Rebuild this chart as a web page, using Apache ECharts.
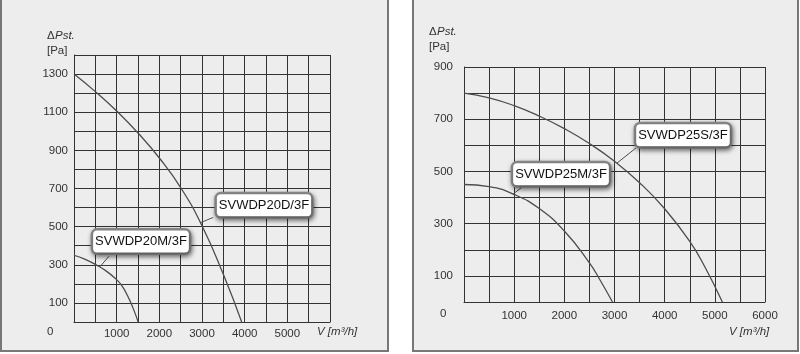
<!DOCTYPE html>
<html>
<head>
<meta charset="utf-8">
<script src="https://cdn.jsdelivr.net/npm/echarts@6/dist/echarts.min.js"></script>
<style>
html,body{margin:0;padding:0;background:#fff;}
#chart{width:800px;height:354px;}
</style>
</head>
<body>
<div id="chart"></div>
<script>
// ---- data ----
const curveD20 = [[0,1300],[500,1208],[1000,1106],[1500,991],[2000,860],[2500,705],[3000,505],[3500,250],[3930,0]];
const curveM20 = [[0,350],[250,330],[500,302],[750,268],[1000,222],[1125,190],[1250,140],[1375,78],[1505,0]];
const curveS25 = [[0,800],[500,782],[1000,752],[1500,712],[2000,664],[2500,607],[3000,539],[3500,457],[4000,357],[4500,232],[4800,135],[5150,0]];
const curveM25 = [[0,450],[500,442],[1000,412],[1500,358],[2000,272],[2500,150],[2700,88],[2960,0]];

const xLabelsLeft = [1000,2000,3000,4000,5000];
const yLabelsLeft = [100,300,500,700,900,1100,1300];
const xLabelsRight = [1000,2000,3000,4000,5000,6000];
const yLabelsRight = [100,300,500,700,900];

const nameD20 = 'SVWDP20D/3F', nameM20 = 'SVWDP20M/3F', nameS25 = 'SVWDP25S/3F', nameM25 = 'SVWDP25M/3F';
// annotation anchors in data units: [box centre], [leader start on curve], [leader end at box]
const annD20 = {box:[4453,612], from:[2955,520], to:[3260,548]};
const annM20 = {box:[1570,422], from:[609,290], to:[820,345]};
const annS25 = {box:[4365,639], from:[3050,532], to:[3429,590]};
const annM25 = {box:[1934,489], from:[977,413], to:[1156,440]};

const FONT = 'Liberation Sans, Arial, sans-serif';
const gridColor = '#333';
const curveColor = '#4d4d4d';

function axisX(grid, labels){
  return {
    gridIndex: grid, type:'value', min:0, max:6000, interval:500,
    axisLine:{show:true, lineStyle:{color:gridColor, width:1}},
    axisTick:{show:false},
    splitLine:{show:true, lineStyle:{color:gridColor, width:1}},
    axisLabel:{formatter:v => labels.includes(v) ? String(v) : '', color:'#333', fontSize:11.5, fontFamily:FONT, margin:grid===0?6:8}
  };
}
function axisY(grid, max, labels, margin){
  return {
    gridIndex: grid, type:'value', min:0, max:max, interval:100,
    axisLine:{show:true, lineStyle:{color:gridColor, width:1}},
    axisTick:{show:false},
    splitLine:{show:true, lineStyle:{color:gridColor, width:1}},
    axisLabel:{formatter:v => labels.includes(v) ? String(v) : '', color:'#333', fontSize:11.5, fontFamily:FONT, margin:margin}
  };
}
function boxLabel(text){
  return {
    show:true, position:'inside', formatter:text,
    fontSize:13, fontFamily:FONT, color:'#111',
    backgroundColor:'#fff', borderColor:'#8a8a8a', borderWidth:2.5, borderRadius:4,
    padding:[5,2,4,2],
    shadowBlur:5, shadowColor:'rgba(0,0,0,0.45)', shadowOffsetX:1, shadowOffsetY:2
  };
}
function curveSeries(name, data, xi, yi, ann){
  return {
    name:name, type:'line', xAxisIndex:xi, yAxisIndex:yi, data:data,
    smooth:0.5, showSymbol:false, symbol:'none', z:3,
    lineStyle:{color:curveColor, width:1.3},
    markLine:{
      silent:true, symbol:['none','none'], label:{show:false},
      lineStyle:{color:curveColor, width:1, type:'solid'},
      data:[[{coord:ann.from},{coord:ann.to}]]
    },
    markPoint:{
      silent:true, symbol:'rect', symbolSize:1, itemStyle:{color:'rgba(0,0,0,0)'},
      label:boxLabel(name),
      data:[{coord:ann.box}]
    }
  };
}

const chart = echarts.init(document.getElementById('chart'), null, {renderer:'canvas'});
const italic = {fontStyle:'italic', fontSize:11.5, fontFamily:FONT, fill:'#333'};
const plain = {fontSize:11.5, fontFamily:FONT, fill:'#333'};
chart.setOption({
  animation:false,
  backgroundColor:'#fff',
  graphic:[
    {type:'rect', shape:{x:1,y:-2,width:387,height:353}, style:{fill:'#ededed', stroke:'#777', lineWidth:2}, z:-10, silent:true},
    {type:'rect', shape:{x:413,y:-2,width:385,height:353}, style:{fill:'#ededed', stroke:'#777', lineWidth:2}, z:-10, silent:true},
    {type:'text', left:47, top:30, style:{text:'Δ', ...plain}, z:10},
    {type:'text', left:55, top:30, style:{text:'Pst.', ...italic}, z:10},
    {type:'text', left:47, top:45, style:{text:'[Pa]', ...plain}, z:10},
    {type:'text', left:47, top:326, style:{text:'0', ...plain}, z:10},
    {type:'text', left:317, top:326, style:{text:'V [m³/h]', ...italic}, z:10},
    {type:'text', left:429, top:26, style:{text:'Δ', ...plain}, z:10},
    {type:'text', left:437, top:26, style:{text:'Pst.', ...italic}, z:10},
    {type:'text', left:429, top:41, style:{text:'[Pa]', ...plain}, z:10},
    {type:'text', left:440, top:308, style:{text:'0', ...plain}, z:10},
    {type:'text', left:729, top:326, style:{text:'V [m³/h]', ...italic}, z:10}
  ],
  grid:[
    {left:74, top:55, width:256, height:267},
    {left:464, top:67, width:301, height:235}
  ],
  xAxis:[axisX(0, xLabelsLeft), axisX(1, xLabelsRight)],
  yAxis:[axisY(0, 1400, yLabelsLeft, 6), axisY(1, 900, yLabelsRight, 11)],
  series:[
    curveSeries(nameD20, curveD20, 0, 0, annD20),
    curveSeries(nameM20, curveM20, 0, 0, annM20),
    curveSeries(nameS25, curveS25, 1, 1, annS25),
    curveSeries(nameM25, curveM25, 1, 1, annM25)
  ]
});
</script>
</body>
</html>
